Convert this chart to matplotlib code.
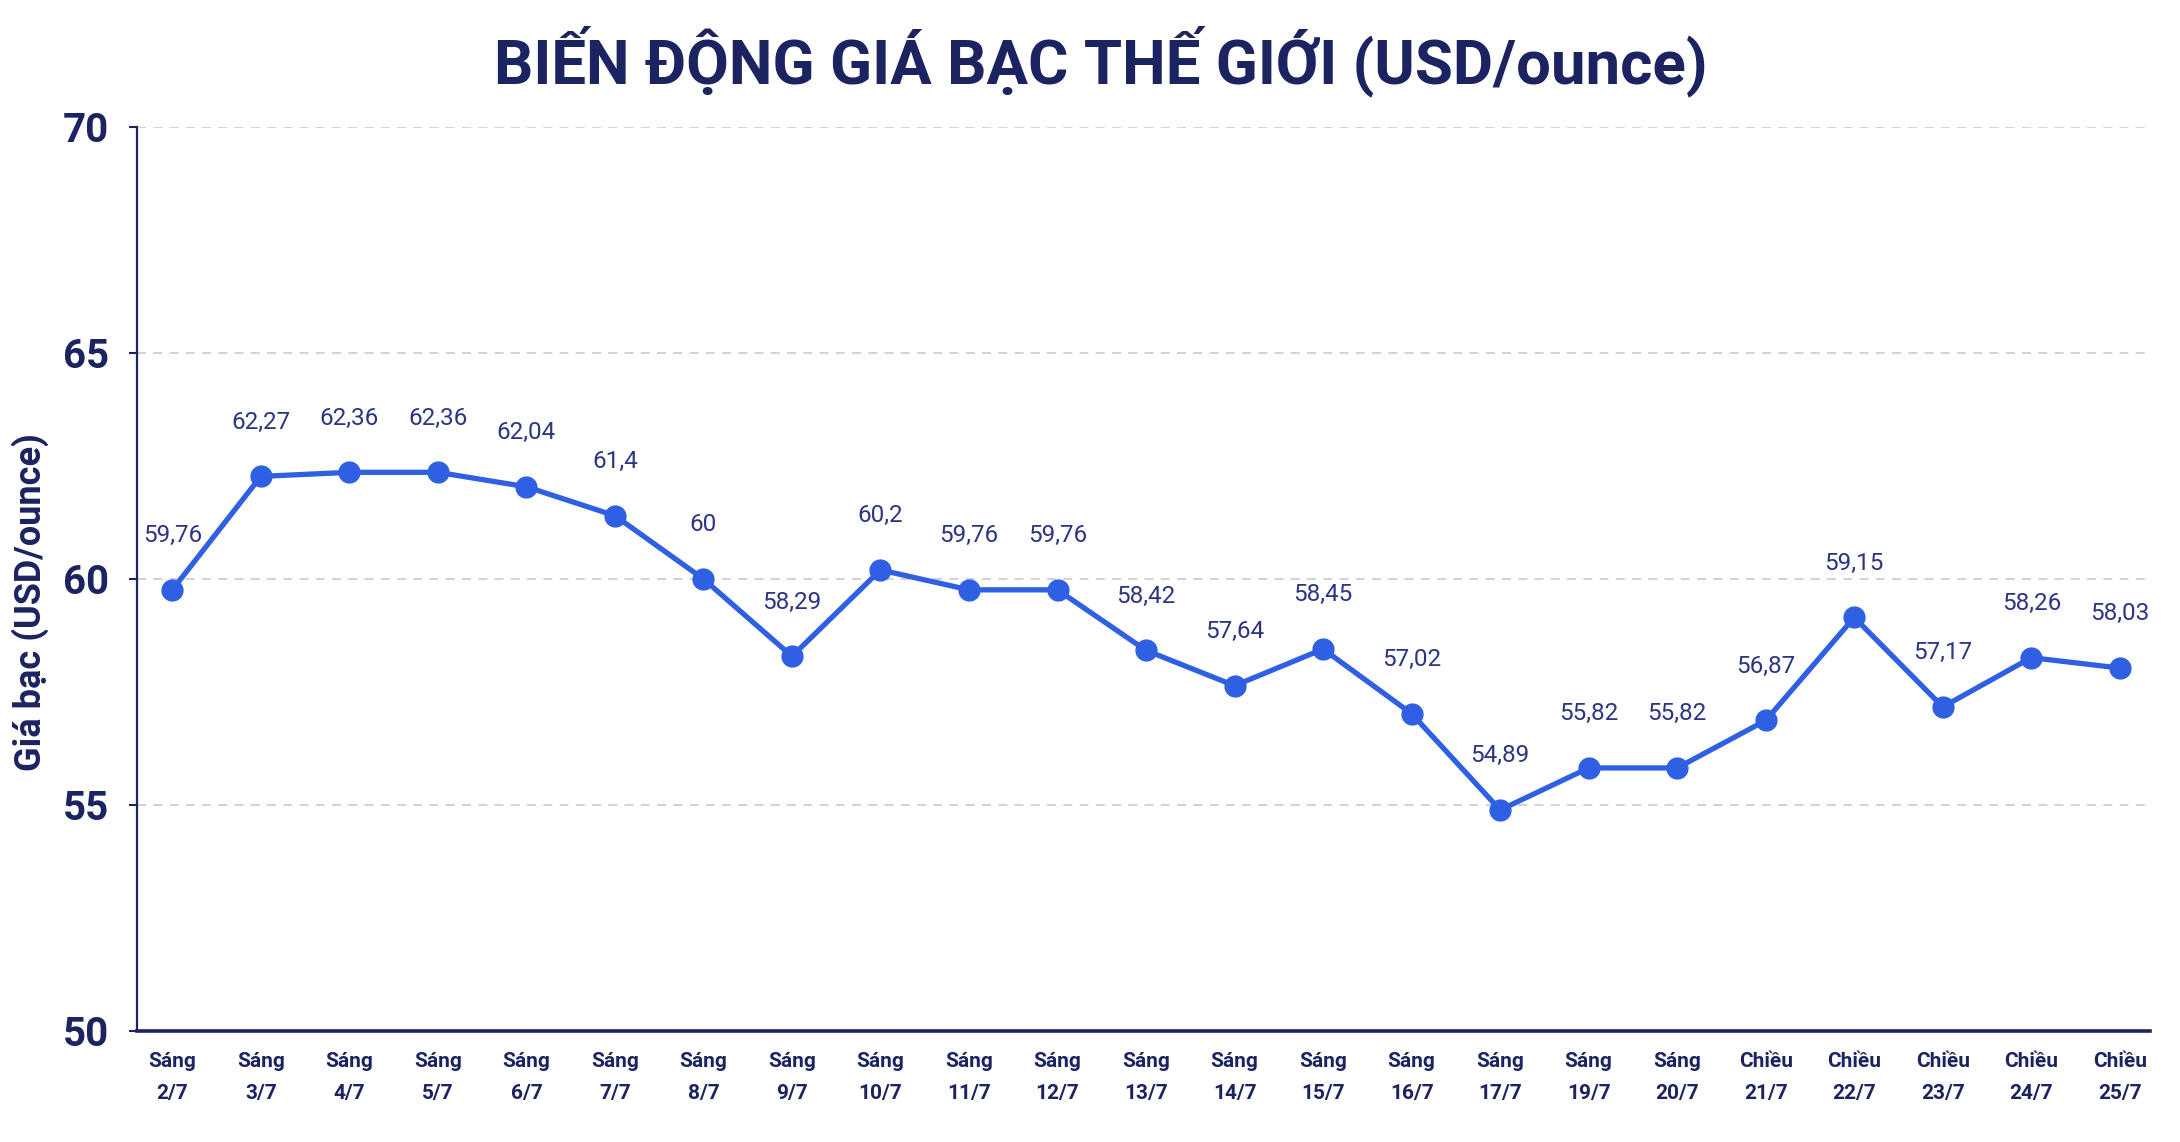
import matplotlib
matplotlib.use("Agg")
import matplotlib.pyplot as plt

# data
sessions = ["Sáng"] * 18 + ["Chiều"] * 5
dates = ["2/7", "3/7", "4/7", "5/7", "6/7", "7/7", "8/7", "9/7", "10/7", "11/7",
         "12/7", "13/7", "14/7", "15/7", "16/7", "17/7", "19/7", "20/7",
         "21/7", "22/7", "23/7", "24/7", "25/7"]
prices = [59.76, 62.27, 62.36, 62.36, 62.04, 61.4, 60, 58.29, 60.2, 59.76,
          59.76, 58.42, 57.64, 58.45, 57.02, 54.89, 55.82, 55.82,
          56.87, 59.15, 57.17, 58.26, 58.03]
yticks = [50, 55, 60, 65, 70]

navy = "#1b2360"
blue = "#2f5fe3"
label_col = "#2b3584"

plt.rcParams['font.family'] = ['Roboto', 'DejaVu Sans']

fig = plt.figure(figsize=(21.8, 11.42), dpi=100)
fig.patch.set_facecolor("white")
ax = fig.add_axes([0.0628, 0.0972, 0.9234, 0.7916])

x = list(range(len(prices)))
ax.plot(x, prices, color=blue, linewidth=3.8, marker="o", markersize=15,
        markerfacecolor=blue, markeredgecolor=blue, zorder=3)

# value labels above each point
for xi, v in zip(x, prices):
    ax.annotate(f"{v:g}".replace(".", ","), (xi, v), xytext=(0, 39),
                textcoords="offset points", ha="center", va="center",
                fontsize=17.5, color=label_col)

ax.set_ylim(50, 70)
ax.set_xlim(-0.4, len(prices) - 1 + 0.34)
ax.set_yticks(yticks)
ax.set_yticklabels([str(t) for t in yticks], fontsize=29, fontweight="bold", color=navy)
ax.set_xticks(x)
ax.set_xticklabels([f"{s}\n{d}" for s, d in zip(sessions, dates)],
                   fontsize=15, fontweight="bold", color=navy, linespacing=1.85)
ax.tick_params(axis="x", length=0, pad=15)
ax.tick_params(axis="y", length=6, width=1.5, color=navy, pad=14)

for yv in yticks[1:]:
    ax.axhline(yv, color="#cfcfcf", linestyle=(0, (5, 4)), linewidth=1.3, zorder=1)

for s in ["top", "right"]:
    ax.spines[s].set_visible(False)
ax.spines["left"].set_color(navy)
ax.spines["left"].set_linewidth(1.6)
ax.spines["bottom"].set_color(navy)
ax.spines["bottom"].set_linewidth(2.6)

fig.text(0.0138, 0.473, "Giá bạc (USD/ounce)", rotation=90, ha="center", va="center",
         fontsize=26, fontweight="bold", color=navy)
fig.text(0.505, 0.9466, "BIẾN ĐỘNG GIÁ BẠC THẾ GIỚI (USD/ounce)", ha="center", va="center",
         fontsize=44.5, fontweight="bold", color=navy)

fig.savefig("out.png", dpi=100, facecolor="white")
